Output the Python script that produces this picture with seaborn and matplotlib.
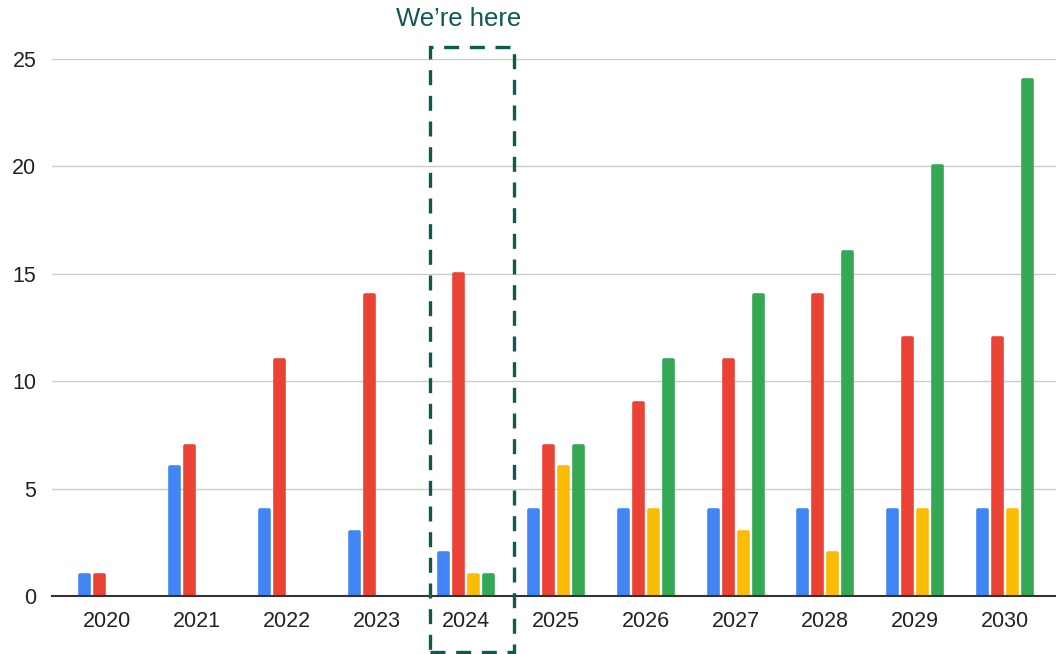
import matplotlib
matplotlib.use("Agg")
import matplotlib.pyplot as plt
import seaborn as sns
import pandas as pd
from matplotlib.patches import Rectangle

years = ["2020", "2021", "2022", "2023", "2024", "2025", "2026", "2027", "2028", "2029", "2030"]
series_names = ["Blue", "Red", "Yellow", "Green"]
blue = [1, 6, 4, 3, 2, 4, 4, 4, 4, 4, 4]
red = [1, 7, 11, 14, 15, 7, 9, 11, 14, 12, 12]
yellow = [0, 0, 0, 0, 1, 6, 4, 3, 2, 4, 4]
green = [0, 0, 0, 0, 1, 7, 11, 14, 16, 20, 24]
colors = ["#4285F4", "#EA4335", "#FBBC04", "#34A853"]
y_ticks = [0, 5, 10, 15, 20, 25]
annotation = "We\u2019re here"
highlight_year = "2024"

rows = []
for name, vals in zip(series_names, [blue, red, yellow, green]):
    for yr, v in zip(years, vals):
        rows.append({"year": yr, "series": name, "value": v})
df = pd.DataFrame(rows)

sns.set_theme(style="white")
plt.rcParams["font.family"] = ["Liberation Sans", "DejaVu Sans"]

fig = plt.figure(figsize=(10.56, 6.54), dpi=100)
ax = fig.add_axes([0.049, 0.0887, 0.951, 0.8211])

sns.barplot(data=df, x="year", y="value", hue="series", order=years,
            hue_order=series_names, palette=colors, width=0.67, gap=0.4,
            legend=False, ax=ax, errorbar=None, linewidth=0, saturation=1)

# rounded tops: stroke each bar with its own colour and round joins
for p in ax.patches:
    if p.get_height() > 0:
        p.set_edgecolor(p.get_facecolor())
        p.set_linewidth(2.6)
        p.set_joinstyle("round")
        p.set_clip_on(True)

ax.set_xlim(-0.62, 10.57)
ax.set_ylim(0, 25)
ax.set_yticks(y_ticks)
ax.set_xlabel("")
ax.set_ylabel("")
for s in ["top", "right", "left"]:
    ax.spines[s].set_visible(False)
ax.spines["bottom"].set_color("#333333")
ax.spines["bottom"].set_linewidth(1.5)
ax.spines["bottom"].set_zorder(5)
ax.yaxis.grid(True, color="#cccccc", linewidth=1)
ax.set_axisbelow(True)
ax.tick_params(axis="both", length=0, labelsize=15.5, labelcolor="#222222")
ax.tick_params(axis="x", pad=11)
ax.tick_params(axis="y", pad=11)

idx = years.index(highlight_year)
teal = "#0E5A4E"
box = Rectangle((idx - 0.41, -2.6), 0.94, 28.15, fill=False, edgecolor=teal,
                linewidth=2.4, linestyle=(0, (4.5, 3.2)), clip_on=False, zorder=6)
ax.add_patch(box)
ax.text(idx - 0.09, 26.85, annotation, ha="center", va="center", fontsize=18.5,
        color=teal, clip_on=False)

fig.savefig("out.png", dpi=100)
